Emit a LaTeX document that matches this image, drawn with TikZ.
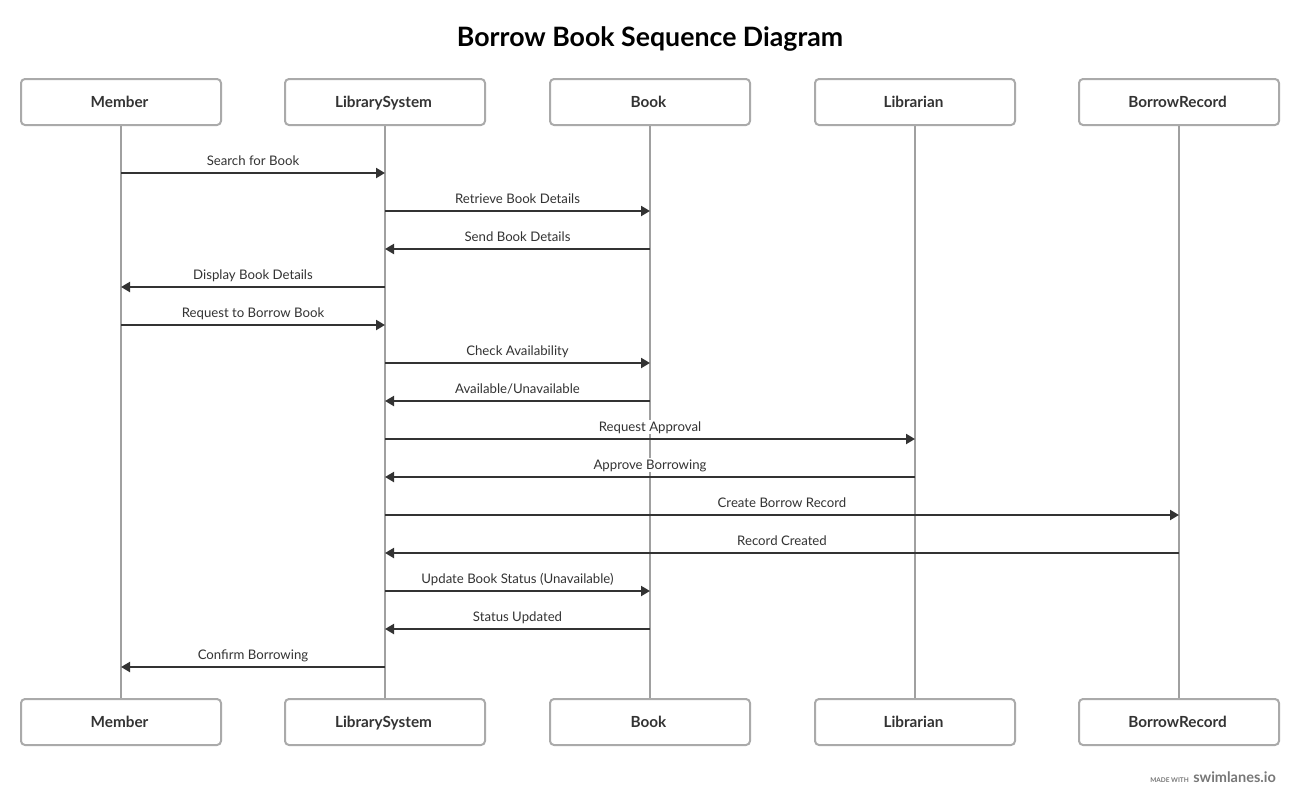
\documentclass[tikz,border=0pt]{standalone}
\usepackage{fontspec}
\setmainfont{Lato}
\usetikzlibrary{arrows.meta}
\definecolor{txt}{HTML}{333333}
\definecolor{boxline}{HTML}{AAAAAA}
\definecolor{life}{HTML}{A0A0A0}
\definecolor{wm}{HTML}{777777}
\begin{document}
\begin{tikzpicture}[x=1pt,y=-1pt,
  actor/.style={draw=boxline,line width=2pt,rounded corners=4pt,minimum width=200pt,minimum height=46pt,
    inner sep=0pt,text height=10.8pt,text depth=0pt,text=txt,font=\fontsize{15.3}{17}\selectfont\bfseries},
  lifeline/.style={draw=life,line width=2pt},
  msg/.style={draw=txt,line width=2pt,-{Triangle[length=9pt,width=10pt]}},
  lbl/.style={fill=white,inner sep=1pt,text=txt,font=\fontsize{13.2}{15}\selectfont,anchor=base,yshift=8pt}]
\useasboundingbox (0,0) rectangle (1300,806);
\node[text=black,font=\fontsize{26.7}{30}\selectfont\bfseries] (title) at (650,39) {Borrow Book Sequence Diagram};
% actors
\foreach \n/\x/\t in {m/121/Member,ls/385/LibrarySystem,b/650/Book,l/915/Librarian,br/1179/BorrowRecord}{
  \node[actor] (\n) at (\x,102) {\kern-3pt\t};
  \node[actor] (\n2) at (\x,722) {\kern-3pt\t};
}
\foreach \n in {m,ls,b,l,br}{\draw[lifeline] (\n.south) -- (\n2.north);}
% message anchor coordinates
\foreach \n/\x in {m/121,ls/385,b/650,l/915,br/1179}{
  \foreach \i in {1,...,14}{
    \coordinate (\n-\i) at (\x,{135+38*\i});
  }
}
\newcommand{\msgline}[4]{\draw[msg] (#1-#3) -- node[lbl]{#4} (#2-#3);}
\msgline{m}{ls}{1}{Search for Book}
\msgline{ls}{b}{2}{Retrieve Book Details}
\msgline{b}{ls}{3}{Send Book Details}
\msgline{ls}{m}{4}{Display Book Details}
\msgline{m}{ls}{5}{Request to Borrow Book}
\msgline{ls}{b}{6}{Check Availability}
\msgline{b}{ls}{7}{Available/Unavailable}
\msgline{ls}{l}{8}{Request Approval}
\msgline{l}{ls}{9}{Approve Borrowing}
\msgline{ls}{br}{10}{Create Borrow Record}
\msgline{br}{ls}{11}{Record Created}
\msgline{ls}{b}{12}{Update Book Status (Unavailable)}
\msgline{b}{ls}{13}{Status Updated}
\msgline{ls}{m}{14}{Confirm Borrowing}
% watermark
\node[anchor=base east,inner sep=0pt,text=wm,font=\fontsize{14.5}{16}\selectfont\bfseries] (wm2) at (1276,782) {swimlanes.io};
\node[anchor=base east,inner sep=0pt,text=wm,font=\fontsize{6.5}{8}\selectfont\bfseries] (wm1) at ([xshift=-4pt]wm2.base west) {MADE WITH};
\end{tikzpicture}
\end{document}
